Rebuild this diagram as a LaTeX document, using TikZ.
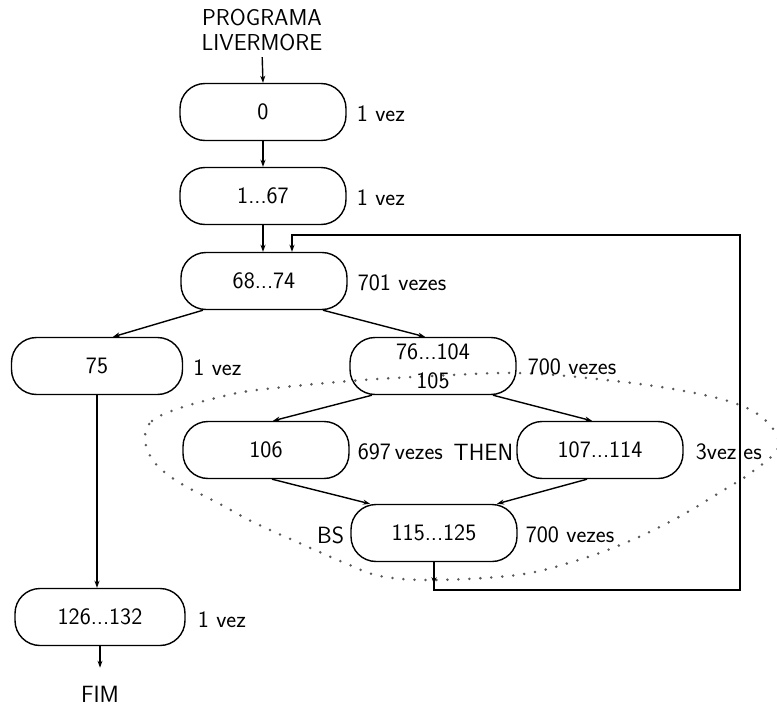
\documentclass[tikz,border=0pt]{standalone}
\usetikzlibrary{arrows.meta,calc}
\begin{document}
\begin{tikzpicture}[x=1pt,y=-1pt,
  every node/.style={font=\sffamily\fontsize{23.5}{29}\selectfont, inner sep=0pt},
  blk/.style={draw, line width=1.4pt, rounded corners=25pt, minimum width=166pt, minimum height=57pt, align=center},
  lbl/.style={anchor=west},
  arr/.style={line width=1.4pt, -{Stealth[length=7pt,width=5pt]}},
  dots/.style={line width=2.8pt, black!65, line cap=round, dash pattern=on 0pt off 11pt}]
\useasboundingbox (0,0) rectangle (777,709);

% dotted loop region
\draw[dots] plot[smooth cycle, tension=0.6] coordinates {
  (145,440) (152,421) (180,408) (220,397) (257,390) (350,381) (433,376) (517,373)
  (597,379) (679,390) (740,405) (770,425) (778,448) (752,472) (727,488) (677,518)
  (625,543) (572,562) (517,575) (433,580) (380,576) (345,563) (297,542) (253,522)
  (218,503) (180,483) (155,463)};

\node[align=center, font=\sffamily\fontsize{23}{25}\selectfont] (title) at (262,30) {PROGRAMA\\LIVERMORE};
\node[blk] (b0) at (263,112) {0};
\node[blk] (b1) at (263,196) {1...67};
\node[blk] (b68) at (264,281) {68...74};
\node[blk, minimum width=171pt] (b75) at (97,366) {75};
\node[blk] (b76) at (433,366) {76...104\\105};
\node[blk] (b106) at (266,450) {106};
\node[blk] (b107) at (600,450) {107...114};
\node[blk] (b115) at (434,533) {115...125};
\node[blk, minimum width=170pt] (b126) at (100,617) {126...132};
\node (fim) at (100,694) {FIM};

\node[lbl] (l0) at ($(b0.east)+(10,2)$) {1 vez};
\node[lbl] (l1) at ($(b1.east)+(10,2)$) {1 vez};
\node[lbl] (l68) at ($(b68.east)+(10,2)$) {701 vezes};
\node[lbl] (l75) at ($(b75.east)+(10,2)$) {1 vez};
\node[lbl] (l76) at ($(b76.east)+(11,1)$) {700 vezes};
\node[lbl] (l106) at ($(b106.east)+(8,2)$) {697\,vezes};
\node[anchor=east] (then) at ($(b107.west)+(-3,2)$) {THEN};
\node[lbl] (l107) at ($(b107.east)+(12,2)$) {3vez\kern7pt es};
\node[anchor=east] (bs) at ($(b115.west)+(-6,2)$) {BS};
\node[lbl] (l115) at ($(b115.east)+(8,2)$) {700 vezes};
\node[lbl] (l126) at ($(b126.east)+(12,3)$) {1 vez};

\coordinate (c1) at (740,590);
\coordinate (c2) at (740,235);

\draw[arr, shorten <=6pt] (title.south) -- (b0.north);
\draw[arr] (b0) -- (b1);
\draw[arr] (b1.south) -- (b1.south |- b68.north);
\draw[arr] ($(b68.south)+(-61,0)$) -- ($(b75.north)+(16,0)$);
\draw[arr] ($(b68.south)+(59,0)$) -- ($(b76.north)+(-8,0)$);
\draw[arr] ($(b76.south)+(-61,0)$) -- ($(b106.north)+(7,0)$);
\draw[arr] ($(b76.south)+(60,0)$) -- ($(b107.north)+(-8,0)$);
\draw[arr] ($(b106.south)+(6,0)$) -- ($(b115.north)+(-64,0)$);
\draw[arr] ($(b107.south)+(-13,0)$) -- ($(b115.north)+(63,0)$);
\draw[arr] (b115.south) |- (c1) -- (c2) -| ($(b68.north)+(28,0)$);
\draw[arr] (b115.south) -- ++(0,22);
\draw[arr] (b75.south) -- (b75.south |- b126.north);
\draw[arr, shorten >=18pt] (b126.south) -- (fim.north);
\end{tikzpicture}
\end{document}
